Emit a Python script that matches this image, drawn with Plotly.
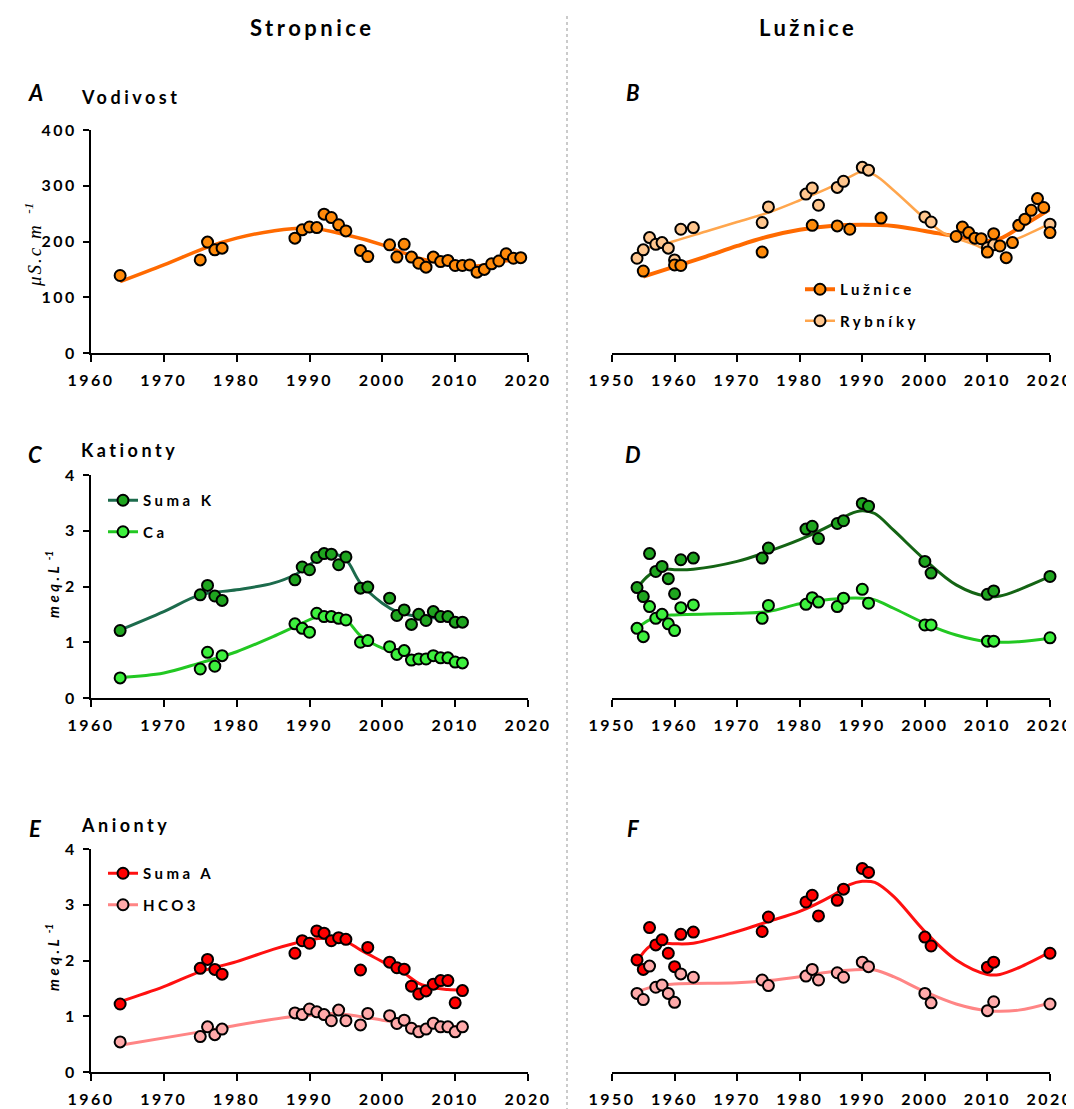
import plotly.graph_objects as go

# ---------------- data ----------------
# Stropnice (left column) sampling years
STR_YEARS = [1964, 1975, 1976, 1977, 1978, 1988, 1989, 1990, 1991, 1992, 1993, 1994, 1995,
             1997, 1998, 2001, 2002, 2003, 2004, 2005, 2006, 2007, 2008, 2009, 2010, 2011]
# Lužnice / Rybníky sampling years
LUZ_YEARS = [1954, 1955, 1956, 1957, 1958, 1959, 1960, 1961, 1963, 1974, 1975, 1981, 1982,
             1983, 1986, 1987, 1990, 1991, 2000, 2001, 2010, 2011, 2020]

# Panel A - Vodivost, Stropnice
A_years = [1964, 1975, 1976, 1977, 1978, 1988, 1989, 1990, 1991, 1992, 1993, 1994, 1995, 1997,
           1998, 2001, 2002, 2003, 2004, 2005, 2006, 2007, 2008, 2009, 2010, 2011, 2012, 2013,
           2014, 2015, 2016, 2017, 2018, 2019]
A_vals = [139, 167, 199, 185, 188, 206, 221, 226, 225, 249, 243, 230, 219, 184, 173, 194, 172,
          195, 172, 161, 154, 172, 164, 166, 157, 157, 158, 145, 150, 160, 165, 178, 170, 171]
A_fit_years = [1964, 1970, 1976, 1980, 1985, 1990, 1995, 2000, 2003, 2005, 2008, 2010, 2013, 2016, 2019]
A_fit_vals = [128, 158, 190, 206, 219, 224, 212, 194, 179, 170, 162, 160, 156, 164, 167]

# Panel B - Vodivost, Lužnice + Rybníky
B_luz_years = [1955, 1960, 1961, 1974, 1982, 1986, 1988, 1993, 2005, 2006, 2007, 2008, 2009,
               2010, 2011, 2012, 2013, 2014, 2015, 2016, 2017, 2018, 2019, 2020]
B_luz_vals = [147, 158, 157, 181, 229, 228, 222, 242, 209, 226, 216, 206, 205, 181, 214, 192,
              171, 198, 229, 240, 256, 277, 261, 216]
B_ryb_vals = [170, 185, 207, 195, 198, 188, 167, 222, 225, 234, 262, 285, 296, 265, 297, 308,
              333, 328, 244, 235, 189, 194, 231]
B_luz_fit_years = [1955, 1960, 1965, 1970, 1975, 1980, 1985, 1990, 1995, 2000, 2005, 2010, 2012, 2015, 2020]
B_luz_fit_vals = [137, 155, 173, 192, 209, 221, 228, 230, 228, 219, 209, 201, 205, 224, 258]
B_ryb_fit_years = [1954, 1956, 1960, 1965, 1970, 1975, 1980, 1985, 1988, 1990, 1992, 1995, 2000,
                   2003, 2005, 2008, 2010, 2012, 2015, 2020]
B_ryb_fit_vals = [184, 189, 201, 218, 235, 252, 274, 298, 316, 325, 319, 292, 241, 215, 206, 194,
                  186, 194, 206, 232]

# Panel C - Kationty, Stropnice
C_sumk = [1.21, 1.85, 2.02, 1.83, 1.75, 2.12, 2.35, 2.30, 2.52, 2.59, 2.58, 2.39, 2.53, 1.97,
          1.99, 1.79, 1.48, 1.58, 1.32, 1.50, 1.39, 1.55, 1.46, 1.46, 1.36, 1.36]
C_ca = [0.36, 0.52, 0.82, 0.57, 0.76, 1.33, 1.25, 1.18, 1.52, 1.46, 1.46, 1.43, 1.40, 1.00, 1.03,
        0.92, 0.78, 0.85, 0.68, 0.70, 0.70, 0.76, 0.72, 0.72, 0.645, 0.63]
C_sumk_fit_years = [1964, 1970, 1975, 1980, 1985, 1988, 1990, 1992, 1993, 1995, 1997, 2000, 2002, 2005, 2008, 2011]
C_sumk_fit_vals = [1.22, 1.55, 1.85, 1.94, 2.06, 2.21, 2.39, 2.58, 2.60, 2.48, 2.06, 1.70, 1.55, 1.46, 1.43, 1.38]
C_ca_fit_years = [1964, 1970, 1975, 1978, 1980, 1985, 1988, 1991, 1993, 1995, 1997, 2000, 2003, 2005, 2008, 2011]
C_ca_fit_vals = [0.37, 0.45, 0.63, 0.745, 0.83, 1.10, 1.28, 1.45, 1.46, 1.40, 1.12, 0.895, 0.78, 0.70, 0.70, 0.655]

# Panel D - Kationty, Lužnice
D_sumk = [1.98, 1.82, 2.59, 2.27, 2.36, 2.14, 1.87, 2.48, 2.51, 2.51, 2.69, 3.03, 3.08, 2.86,
          3.13, 3.18, 3.49, 3.44, 2.45, 2.24, 1.86, 1.92, 2.18]
D_ca = [1.25, 1.10, 1.64, 1.43, 1.50, 1.33, 1.21, 1.62, 1.67, 1.43, 1.66, 1.68, 1.80, 1.72, 1.64,
        1.79, 1.95, 1.70, 1.31, 1.31, 1.02, 1.02, 1.08]
D_sumk_fit_years = [1954, 1956, 1958, 1960, 1963, 1970, 1975, 1980, 1985, 1988, 1990, 1992, 1995,
                    2000, 2005, 2010, 2012, 2015, 2020]
D_sumk_fit_vals = [1.97, 2.21, 2.31, 2.30, 2.31, 2.45, 2.63, 2.84, 3.10, 3.30, 3.36, 3.31, 3.01,
                   2.48, 2.03, 1.82, 1.83, 1.94, 2.18]
D_ca_fit_years = [1954, 1956, 1958, 1960, 1970, 1975, 1980, 1985, 1990, 1992, 1995, 2000, 2005, 2010, 2015, 2020]
D_ca_fit_vals = [1.25, 1.40, 1.47, 1.49, 1.52, 1.55, 1.69, 1.77, 1.79, 1.76, 1.61, 1.34, 1.13, 1.01, 1.01, 1.07]

# Panel E - Anionty, Stropnice
E_suma = [1.22, 1.86, 2.02, 1.84, 1.755, 2.13, 2.355, 2.31, 2.53, 2.49, 2.355, 2.41, 2.38, 1.83,
          2.235, 1.97, 1.87, 1.845, 1.54, 1.40, 1.455, 1.575, 1.64, 1.64, 1.24, 1.46]
E_hco3 = [0.54, 0.635, 0.81, 0.67, 0.77, 1.06, 1.03, 1.13, 1.08, 1.03, 0.92, 1.11, 0.92, 0.845,
          1.05, 1.01, 0.87, 0.93, 0.785, 0.72, 0.77, 0.875, 0.81, 0.81, 0.72, 0.81]
E_suma_fit_years = [1964, 1970, 1975, 1980, 1985, 1988, 1990, 1992, 1995, 1997, 2000, 2003, 2005, 2007, 2009, 2011]
E_suma_fit_vals = [1.26, 1.53, 1.80, 1.98, 2.20, 2.31, 2.37, 2.40, 2.34, 2.19, 1.98, 1.77, 1.59, 1.51, 1.48, 1.47]
E_hco3_fit_years = [1964, 1975, 1980, 1988, 1990, 1993, 1995, 2000, 2003, 2005, 2008, 2011]
E_hco3_fit_vals = [0.48, 0.72, 0.84, 1.00, 1.02, 1.05, 1.03, 0.93, 0.87, 0.81, 0.81, 0.82]

# Panel F - Anionty, Lužnice
F_suma = [2.01, 1.84, 2.59, 2.28, 2.37, 2.13, 1.89, 2.47, 2.51, 2.52, 2.78, 3.05, 3.17, 2.80,
          3.08, 3.28, 3.65, 3.58, 2.42, 2.26, 1.88, 1.97, 2.13]
F_hco3 = [1.41, 1.30, 1.90, 1.52, 1.56, 1.41, 1.25, 1.76, 1.70, 1.65, 1.55, 1.72, 1.84, 1.65,
          1.78, 1.70, 1.97, 1.89, 1.41, 1.24, 1.10, 1.26, 1.22]
F_suma_fit_years = [1954, 1956, 1958, 1960, 1963, 1970, 1975, 1980, 1985, 1988, 1990, 1992, 1995,
                    2000, 2005, 2010, 2012, 2015, 2020]
F_suma_fit_vals = [1.98, 2.25, 2.31, 2.30, 2.31, 2.52, 2.70, 2.88, 3.15, 3.36, 3.42, 3.40, 3.15,
                   2.52, 2.01, 1.75, 1.75, 1.87, 2.15]
F_hco3_fit_years = [1954, 1957, 1960, 1970, 1975, 1980, 1985, 1990, 1992, 1995, 2000, 2005, 2010, 2015, 2020]
F_hco3_fit_vals = [1.44, 1.54, 1.58, 1.60, 1.64, 1.71, 1.80, 1.84, 1.83, 1.71, 1.44, 1.22, 1.10, 1.11, 1.24]

LEFT_XTICKS = [1960, 1970, 1980, 1990, 2000, 2010, 2020]
RIGHT_XTICKS = [1950, 1960, 1970, 1980, 1990, 2000, 2010, 2020]
COND_YTICKS = [0, 100, 200, 300, 400]
ION_YTICKS = [0, 1, 2, 3, 4]

# ---------------- style ----------------
W, H = 1074, 1109
OFF = 8  # page body margin: page pixel p is figure pixel p - OFF
FONT = "Lato"


def px_x(p):
    return (p - OFF) / W


def px_y(p):
    return 1 - (p - OFF) / H


def ls(text, sp):
    return f'<span style="letter-spacing:{sp}px">{text}</span>'


COL_L = [px_x(91), px_x(528)]
COL_R = [px_x(612), px_x(1050)]
ROW1 = [px_y(353), px_y(130)]
ROW2 = [px_y(698), px_y(475)]
ROW3 = [px_y(1072), px_y(849)]

fig = go.Figure()


def add_fit(xs, ys, color, width, xa, ya):
    fig.add_trace(go.Scatter(x=xs, y=ys, mode="lines", line=dict(color=color, width=width, shape="spline", smoothing=1.0),
                             xaxis=xa, yaxis=ya, showlegend=False, hoverinfo="skip", cliponaxis=False))


def add_pts(xs, ys, fill, xa, ya):
    fig.add_trace(go.Scatter(x=xs, y=ys, mode="markers",
                             marker=dict(size=11, color=fill, line=dict(color="black", width=2)),
                             xaxis=xa, yaxis=ya, showlegend=False, cliponaxis=False))


def add_legend_item(name, fill, lcolor, lwidth, legend, group):
    fig.add_trace(go.Scatter(x=[None], y=[None], mode="lines+markers", name=ls(name, 3.5),
                             line=dict(color=lcolor, width=lwidth),
                             marker=dict(size=11, color=fill, line=dict(color="black", width=2)),
                             legend=legend, legendgroup=group, showlegend=True, xaxis="x2", yaxis="y2"))


ORANGE = "#FF8A0A"
ORANGE_LINE = "#FF6A00"
PEACH = "#FFC68E"
PEACH_LINE = "#FFA64D"
SUMK = "#1FA51F"
SUMK_LINE_C = "#1C6B4C"
SUMK_LINE_D = "#146414"
CA = "#3DF03D"
CA_LINE = "#22C822"
RED = "#FF0000"
RED_LINE = "#FF1010"
PINK = "#FFAAAA"
PINK_LINE = "#FF8585"

# A
add_fit(A_fit_years, A_fit_vals, ORANGE_LINE, 3.5, "x", "y")
add_pts(A_years, A_vals, ORANGE, "x", "y")
# B
add_fit(B_luz_fit_years, B_luz_fit_vals, ORANGE_LINE, 4, "x2", "y2")
add_fit(B_ryb_fit_years, B_ryb_fit_vals, PEACH_LINE, 2.5, "x2", "y2")
add_pts(LUZ_YEARS, B_ryb_vals, PEACH, "x2", "y2")
add_pts(B_luz_years, B_luz_vals, ORANGE, "x2", "y2")
add_legend_item("Lužnice", ORANGE, ORANGE_LINE, 4, "legend", "b1")
add_legend_item("Rybníky", PEACH, PEACH_LINE, 2.5, "legend", "b2")
# C
add_fit(C_sumk_fit_years, C_sumk_fit_vals, SUMK_LINE_C, 3, "x3", "y3")
add_fit(C_ca_fit_years, C_ca_fit_vals, CA_LINE, 3, "x3", "y3")
add_pts(STR_YEARS, C_sumk, SUMK, "x3", "y3")
add_pts(STR_YEARS, C_ca, CA, "x3", "y3")
add_legend_item("Suma K", SUMK, SUMK_LINE_C, 3, "legend2", "c1")
add_legend_item("Ca", CA, CA_LINE, 3, "legend2", "c2")
# D
add_fit(D_sumk_fit_years, D_sumk_fit_vals, SUMK_LINE_D, 3, "x4", "y4")
add_fit(D_ca_fit_years, D_ca_fit_vals, CA_LINE, 3, "x4", "y4")
add_pts(LUZ_YEARS, D_sumk, SUMK, "x4", "y4")
add_pts(LUZ_YEARS, D_ca, CA, "x4", "y4")
# E
add_fit(E_suma_fit_years, E_suma_fit_vals, RED_LINE, 3, "x5", "y5")
add_fit(E_hco3_fit_years, E_hco3_fit_vals, PINK_LINE, 3, "x5", "y5")
add_pts(STR_YEARS, E_suma, RED, "x5", "y5")
add_pts(STR_YEARS, E_hco3, PINK, "x5", "y5")
add_legend_item("Suma A", RED, RED_LINE, 3, "legend3", "e1")
add_legend_item("HCO3", PINK, PINK_LINE, 3, "legend3", "e2")
# F
add_fit(F_suma_fit_years, F_suma_fit_vals, RED_LINE, 3, "x6", "y6")
add_fit(F_hco3_fit_years, F_hco3_fit_vals, PINK_LINE, 3, "x6", "y6")
add_pts(LUZ_YEARS, F_suma, RED, "x6", "y6")
add_pts(LUZ_YEARS, F_hco3, PINK, "x6", "y6")

tickfont = dict(family=FONT, size=16, color="black", weight="bold")


def xaxis_cfg(domain, anchor, ticks):
    return dict(domain=domain, anchor=anchor, range=[ticks[0], ticks[-1]], tickmode="array",
                tickvals=ticks, ticktext=[ls(str(t), 2.5) for t in ticks], showline=True, linecolor="black",
                linewidth=2, ticks="outside", ticklen=7, tickwidth=2, tickcolor="black", showgrid=False,
                zeroline=False, tickfont=tickfont, ticklabelstandoff=5, fixedrange=True, automargin=False)


def yaxis_cfg(domain, anchor, ticks, visible=True):
    cfg = dict(domain=domain, anchor=anchor, range=[ticks[0], ticks[-1]], showgrid=False, zeroline=False,
               fixedrange=True, automargin=False)
    if visible:
        cfg.update(tickmode="array", tickvals=ticks, ticktext=[ls(str(t), 2.5) for t in ticks], showline=True,
                   linecolor="black", linewidth=2, ticks="outside", ticklen=6, tickwidth=2, tickcolor="black",
                   tickfont=tickfont, ticklabelstandoff=3)
    else:
        cfg.update(visible=False)
    return cfg


legend_common = dict(font=dict(family=FONT, size=15, color="black", weight="bold"), bgcolor="rgba(0,0,0,0)",
                     xanchor="left", yanchor="top", tracegroupgap=9, itemwidth=30)

annotations = []


def ann(text, x, y, size, xanchor="center", style="normal", family=FONT, angle=0, weight="bold"):
    annotations.append(dict(text=text, x=px_x(x), y=px_y(y), xref="paper", yref="paper", showarrow=False,
                            xanchor=xanchor, yanchor="middle", textangle=angle,
                            font=dict(family=family, size=size, color="black", style=style, weight=weight)))


ann(ls("Stropnice", 3.5), 312, 28, 22)
ann(ls("Lužnice", 3.5), 808, 28, 22)
for letter, x, y in [("A", 35, 92), ("B", 633, 92), ("C", 35, 454), ("D", 633, 454), ("E", 35, 828), ("F", 633, 828)]:
    ann(letter, x, y, 22, style="italic")
ann(ls("Vodivost", 3.5), 79, 97, 18, xanchor="left")
ann(ls("Kationty", 3.5), 79, 450, 18, xanchor="left")
ann(ls("Anionty", 3.5), 79, 825, 18, xanchor="left")
ann(ls("μS.c m", 2) + "  <sup>-1</sup>", 33, 245, 19, style="italic", family="Liberation Serif", angle=-90,
    weight="normal")
ann(ls("meq.L", 3.5) + "<sup> -1</sup>", 52, 585, 15, style="italic", angle=-90)
ann(ls("meq.L", 3.5) + "<sup> -1</sup>", 52, 958, 15, style="italic", angle=-90)

fig.update_layout(
    width=W, height=H, margin=dict(l=0, r=0, t=0, b=0, pad=0, autoexpand=False),
    plot_bgcolor="white", paper_bgcolor="white",
    font=dict(family=FONT, color="black"),
    xaxis=xaxis_cfg(COL_L, "y", LEFT_XTICKS), yaxis=yaxis_cfg(ROW1, "x", COND_YTICKS),
    xaxis2=xaxis_cfg(COL_R, "y2", RIGHT_XTICKS), yaxis2=yaxis_cfg(ROW1, "x2", COND_YTICKS, visible=False),
    xaxis3=xaxis_cfg(COL_L, "y3", LEFT_XTICKS), yaxis3=yaxis_cfg(ROW2, "x3", ION_YTICKS),
    xaxis4=xaxis_cfg(COL_R, "y4", RIGHT_XTICKS), yaxis4=yaxis_cfg(ROW2, "x4", ION_YTICKS, visible=False),
    xaxis5=xaxis_cfg(COL_L, "y5", LEFT_XTICKS), yaxis5=yaxis_cfg(ROW3, "x5", ION_YTICKS),
    xaxis6=xaxis_cfg(COL_R, "y6", RIGHT_XTICKS), yaxis6=yaxis_cfg(ROW3, "x6", ION_YTICKS, visible=False),
    legend=dict(x=px_x(800), y=px_y(273), **legend_common),
    legend2=dict(x=px_x(103), y=px_y(484), **legend_common),
    legend3=dict(x=px_x(103), y=px_y(857), **legend_common),
    annotations=annotations,
    shapes=[dict(type="line", xref="paper", yref="paper", x0=px_x(567), x1=px_x(567), y0=0, y1=px_y(14),
                 line=dict(color="#BBBBBB", width=1.5, dash="dot"))],
    hovermode=False,
)

fig.write_html("out.html")
